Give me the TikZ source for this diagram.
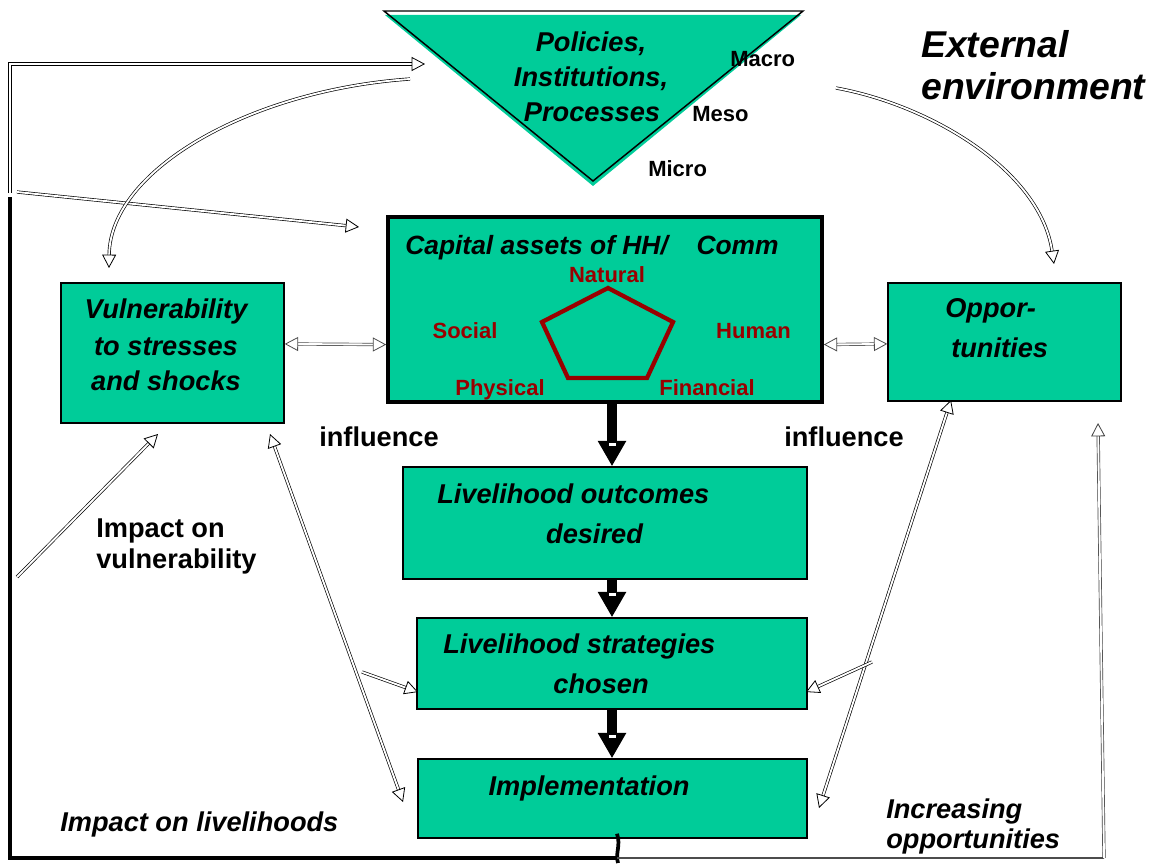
\documentclass[tikz,border=0pt]{standalone}
\usepackage{fontspec}
\setmainfont{Liberation Sans}
\usetikzlibrary{arrows.meta,fit,calc}
\definecolor{boxgreen}{RGB}{0,204,153}
\definecolor{assetred}{RGB}{153,0,0}

\begin{document}
\begin{tikzpicture}[x=0.75pt,y=-0.75pt,
  box/.style={draw=black, fill=boxgreen, line width=1.1pt, inner sep=0pt},
  thickbox/.style={box, line width=2.7pt},
  boxtext/.style={font=\fontsize{20.4pt}{24pt}\selectfont\bfseries\itshape, inner sep=0pt, anchor=base},
  boxtextw/.style={boxtext, anchor=base west},
  lbl/.style={font=\fontsize{20.4pt}{24pt}\selectfont\bfseries, inner sep=0pt, anchor=base west},
  level/.style={font=\fontsize{16.5pt}{20pt}\selectfont\bfseries, inner sep=0pt, anchor=base west},
  asset/.style={font=\fontsize{16.5pt}{20pt}\selectfont\bfseries, text=assetred, inner sep=0pt, anchor=base},
  flow/.style={line width=7.5pt, -{Triangle[length=19pt,width=20pt]}},
  link/.style={draw=black, double=white, double distance=1.4pt, line width=0.5pt},
  opentip/.tip={Triangle[open, length=10pt, width=10.5pt, line width=0.6pt, fill=white]},
  tip/.style={-opentip},
  tips/.style={opentip-opentip},
]
\useasboundingbox (0,0) rectangle (1155,863);

% ---- policies triangle (green body with offset black outline)
\fill[boxgreen] (385,15) -- (801,15) -- (593,186) -- cycle;
\draw[line width=1.1pt] (384,11) -- (803,11) -- (593,181) -- cycle;
\node[boxtext] (pol1) at (591,52) {Policies,};
\node[boxtext] (pol2) at (591,87) {Institutions,};
\node[boxtext] (pol3) at (592,122) {Processes};
\node[level] (macro) at (730,67) {Macro};
\node[level] (meso) at (692,122) {Meso};
\node[level] (micro) at (648,176) {Micro};

\node[font=\fontsize{28pt}{32pt}\selectfont\bfseries\itshape, inner sep=0pt, anchor=base west] (ext1) at (921,58) {External};
\node[font=\fontsize{28pt}{32pt}\selectfont\bfseries\itshape, inner sep=0pt, anchor=base west] (ext2) at (921,100) {environment};

% ---- boxes
\node[thickbox, fit={(388,217) (822,402)}] (cap) {};
\node[box, fit={(61,283) (284,423)}] (vul) {};
\node[box, fit={(888,283) (1121,401)}] (opp) {};
\node[box, fit={(403,467) (807,579)}] (out) {};
\node[box, fit={(417,618) (807,709)}] (str) {};
\node[box, fit={(418,759) (807,838)}] (imp) {};

% ---- capital assets pentagon
\node[font=\fontsize{19.8pt}{24pt}\selectfont\bfseries\itshape, inner sep=0pt, anchor=base west] (captitle) at (405,254) {Capital assets of HH/\hspace{21.5pt}Comm};
\draw[assetred, line width=3.2pt, line join=miter] (608,288) -- (673,322) -- (647,378) -- (568,378) -- (542,322) -- cycle;
\node[asset] (natural) at (607,282) {Natural};
\node[asset] (social) at (465,338) {Social};
\node[asset] (human) at (753.5,338) {Human};
\node[asset] (physical) at (500,395) {Physical};
\node[asset] (financial) at (707,395) {Financial};

% ---- box texts
\node[boxtext] (vul1) at (166,318) {Vulnerability};
\node[boxtext] (vul2) at (166,355) {to stresses};
\node[boxtext] (vul3) at (166,390) {and shocks};
\node[boxtextw] (opp1) at (945,317) {Oppor-};
\node[boxtextw] (opp2) at (951,357) {tunities};
\node[boxtextw] (out1) at (437,503) {Livelihood outcomes};
\node[boxtext] (out2) at (594.5,543) {desired};
\node[boxtextw] (str1) at (443,653) {Livelihood strategies};
\node[boxtext] (str2) at (601,693) {chosen};
\node[boxtext] (imp1) at (589,795) {Implementation};

% ---- free labels
\node[lbl] (infl1) at (319,446) {influence};
\node[lbl] (infl2) at (784,446) {influence};
\node[lbl] (impv1) at (96,537) {Impact on};
\node[lbl] (impv2) at (96,568) {vulnerability};
\node[boxtextw] (impl) at (60,831) {Impact on livelihoods};
\node[boxtextw] (inc1) at (886,818) {Increasing};
\node[boxtextw] (inc2) at (886,848) {opportunities};

% ---- main flow
\draw[flow] (cap.south -| str.north) -- (out.north -| str.north);
\draw[flow] (out.south -| str.north) -- (str.north);
\draw[flow] (str.south) -- (imp.north -| str.north);
\fill[white] (609,443) rectangle (616,446);
\fill[white] (609,593) rectangle (616,596);
\fill[white] (609,735) rectangle (616,738);

% ---- free connector ends
\coordinate (fbTop) at (10,197);
\coordinate (fbCorner) at (10,858);
\coordinate (fbMid) at (617,858);
\coordinate (fbRight) at (1104,858);
\coordinate (fbUp) at (1098,423);
\coordinate (ulBottom) at (10,193);
\coordinate (ulCorner) at (10,64);
\coordinate (ulTip) at (425,64);
\coordinate (slStart) at (17,192);
\coordinate (slTip) at (359,227);
\coordinate (lcStart) at (410,79);
\coordinate (lcTip) at (109,268);
\coordinate (rcStart) at (836,88);
\coordinate (rcTip) at (1054,264);
\coordinate (ivStart) at (17,577);
\coordinate (ivTip) at (158,434);
\coordinate (vdTop) at (270,434);
\coordinate (vdBot) at (403,802);
\coordinate (lsStart) at (362,672);
\coordinate (lsTip) at (418,692);
\coordinate (odTop) at (951,400);
\coordinate (odBot) at (819,808);
\coordinate (rsStart) at (872,662);
\coordinate (rsTip) at (806,692);

% ---- feedback frame
\draw[line width=2.8pt] (imp.south -| fbMid) ++(0,-5) .. controls (621,846) and (615,853) .. (618,863);
\draw[line width=3pt] (fbTop) -- (fbCorner) -- (fbMid);
\draw[line width=1.2pt, black!70] (fbMid) -- (fbRight);
\draw[link, draw=black!75, tip] (fbRight) -- (fbUp);

% ---- links from the external environment
\draw[link, tip] (ulBottom) -- (ulCorner) -- (ulTip);
\draw[link, tip] (slStart) -- (slTip);
\draw[link, tip] (lcStart) .. controls (250,90) and (110,170) .. (lcTip);
\draw[link, tip] (rcStart) .. controls (930,105) and (1040,170) .. (rcTip);

% ---- links between assets and context
\draw[link, draw=black!70, tips] ($(vul.north east)!0.436!(vul.south east)$) -- ($(cap.north west)!0.686!(cap.south west)$);
\draw[link, draw=black!70, tips] ($(cap.north east)!0.686!(cap.south east)$) -- ($(opp.north west)!0.516!(opp.south west)$);
\draw[link, tip] (ivStart) -- (ivTip);
\draw[link, tips] (vdTop) -- (vdBot);
\draw[link, tip] (lsStart) -- (lsTip);
\draw[link, tips] (odTop) -- (odBot);
\draw[link, tip] (rsStart) -- (rsTip);
\end{tikzpicture}
\end{document}
